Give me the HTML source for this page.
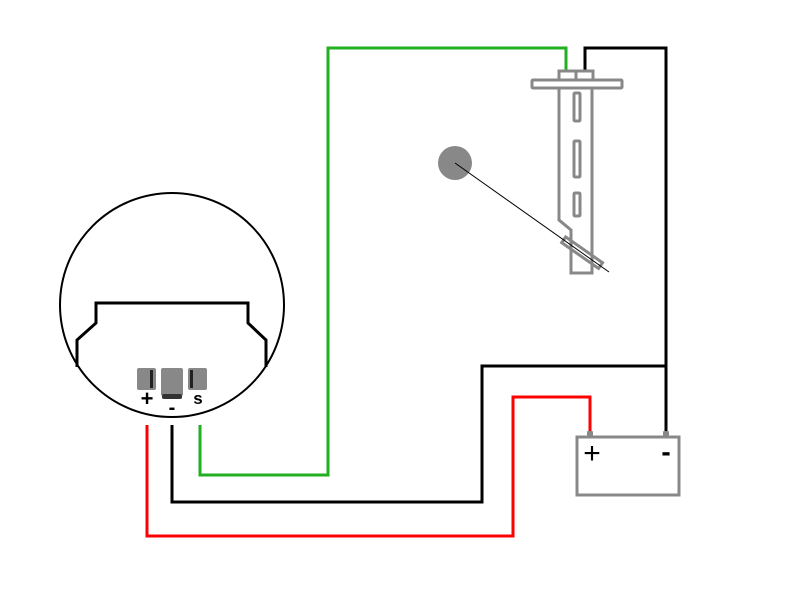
<!DOCTYPE html>
<html><head><style>body{margin:0;background:#fff}</style></head><body>
<svg width="799" height="593" viewBox="0 0 799 593" xmlns="http://www.w3.org/2000/svg" font-family="Liberation Sans, sans-serif">
<rect width="799" height="593" fill="#fff"/>
<polyline points="147,425 147,536 513,536 513,397 590,397 590,432" fill="none" stroke="#f00" stroke-width="3"/>
<polyline points="172,425 172,502 482,502 482,366 666,366" fill="none" stroke="#000" stroke-width="3"/>
<polyline points="666,432 666,48 585,48 585,72" fill="none" stroke="#000" stroke-width="3"/>
<polyline points="200,425 200,475 328,475 328,48 566,48 566,72" fill="none" stroke="#22b022" stroke-width="3"/>
<circle cx="172" cy="305" r="112" fill="none" stroke="#000" stroke-width="2"/>
<polyline points="77,367 77,340 96,323 96,303 248,303 248,323 266,340 266,367" fill="none" stroke="#000" stroke-width="3"/>
<rect x="137" y="368" width="19" height="22" rx="2" fill="#888"/>
<rect x="150" y="370" width="3" height="18" fill="#222"/>
<rect x="161" y="368" width="22" height="28" rx="2" fill="#888"/>
<rect x="162" y="394" width="20" height="5" rx="2" fill="#333"/>
<rect x="188" y="368" width="19" height="22" rx="2" fill="#888"/>
<rect x="190" y="370" width="3" height="18" fill="#222"/>
<text x="147" y="406" font-size="22" font-weight="bold" text-anchor="middle">+</text>
<text x="172" y="414" font-size="20" font-weight="bold" text-anchor="middle">-</text>
<text x="198" y="404" font-size="17" font-weight="bold" text-anchor="middle">s</text>
<g fill="none" stroke="#888" stroke-width="3">
<rect x="559" y="71" width="17" height="9"/>
<rect x="576" y="71" width="17" height="9"/>
<rect x="532" y="80" width="90" height="8" rx="1"/>
<polyline points="559,88 559,220 571,230 571,273 592,273 592,88"/>
<rect x="574" y="93" width="6" height="28" rx="1"/>
<rect x="574" y="141" width="6" height="36" rx="1"/>
<rect x="574" y="193" width="6" height="23" rx="1"/>
<rect x="560" y="249" width="45" height="7" transform="rotate(35 582 252)"/>
</g>
<circle cx="455" cy="163" r="17" fill="#888"/>
<line x1="455" y1="163" x2="609" y2="272" stroke="#000" stroke-width="1"/>
<rect x="587" y="431" width="6" height="6" rx="1" fill="#888"/>
<rect x="663" y="431" width="6" height="6" rx="1" fill="#888"/>
<rect x="577" y="437" width="102" height="58" fill="none" stroke="#888" stroke-width="3"/>
<text x="592" y="463" font-size="30" text-anchor="middle">+</text>
<text x="666" y="461" font-size="28" font-weight="bold" text-anchor="middle">-</text>
</svg>
</body></html>
